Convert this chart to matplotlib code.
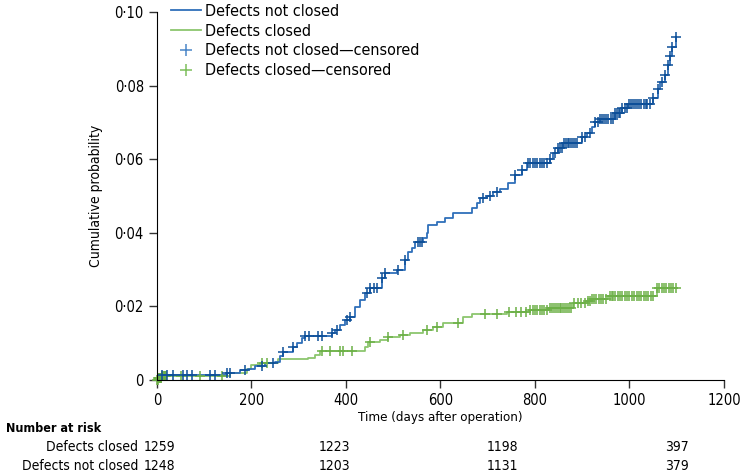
import numpy as np
import matplotlib
matplotlib.use('Agg')
import matplotlib.pyplot as plt
from matplotlib.lines import Line2D

plt.rcParams['font.family'] = ['DejaVu Sans']
plt.rcParams['font.stretch'] = 'condensed'

# step curve for defects not closed (days, cumulative probability)
open_days = [0, 6, 148, 176, 193, 207, 229, 250, 260, 267, 288, 296, 307, 313, 370, 377, 387, 398, 408, 419,
             430, 440, 451, 476, 483, 508, 525, 531, 540, 546, 563, 571, 574, 593, 610, 626, 667, 677, 684, 698,
             711, 726, 743, 758, 772, 783, 832, 838, 849, 859, 899, 910, 921, 927, 938, 969, 984, 997, 1050, 1060,
             1065, 1075, 1081, 1086, 1090, 1098]
open_prob = [0, 0.0014, 0.002, 0.0027, 0.003, 0.0038, 0.0046, 0.005, 0.0065, 0.0076, 0.009, 0.010, 0.0114, 0.012,
             0.0128, 0.0136, 0.015, 0.0163, 0.017, 0.0198, 0.0217, 0.0236, 0.025, 0.0277, 0.029, 0.030, 0.0326,
             0.0347, 0.036, 0.0375, 0.0385, 0.040, 0.042, 0.043, 0.044, 0.0453, 0.0467, 0.048, 0.0494, 0.050,
             0.051, 0.052, 0.0535, 0.0556, 0.057, 0.059, 0.060, 0.0616, 0.063, 0.0643, 0.066, 0.067, 0.0687,
             0.070, 0.071, 0.0725, 0.074, 0.075, 0.0765, 0.079, 0.081, 0.083, 0.0855, 0.088, 0.0906, 0.0933]
open_censor = [11, 21, 34, 55, 63, 74, 112, 123, 148, 155, 186, 222, 245, 267, 288, 313, 322, 340, 349, 370, 381,
               402, 408, 444, 451, 459, 465, 476, 483, 510, 525, 552, 556, 560, 690, 705, 720, 758, 772, 785,
               790, 795, 800, 805, 810, 815, 820, 825, 832, 842, 849, 853, 857, 861, 865, 869, 873, 877, 881, 885,
               889, 899, 906, 916, 927, 933, 938, 942, 946, 950, 955, 960, 965, 969, 973, 977, 981, 985, 990, 995,
               1000, 1004, 1008, 1012, 1016, 1020, 1025, 1030, 1034, 1038, 1043, 1050, 1060, 1069, 1075, 1081,
               1086, 1090, 1098]

# step curve for defects closed
closed_days = [0, 3, 10, 155, 190, 200, 218, 256, 320, 334, 345, 440, 447, 472, 489, 514, 535, 563, 584, 605,
               648, 667, 740, 790, 830, 880, 910, 918, 955, 1058, 1100]
closed_prob = [0, 0.0005, 0.001, 0.002, 0.003, 0.004, 0.0046, 0.0057, 0.006, 0.0068, 0.0079, 0.009, 0.0103,
               0.0109, 0.0117, 0.0122, 0.0128, 0.0136, 0.0144, 0.0155, 0.017, 0.0179, 0.0185, 0.019, 0.0196,
               0.0209, 0.0215, 0.022, 0.0228, 0.025, 0.025]
closed_censor = [1, 2, 3, 4, 5, 6, 7, 8, 9, 10, 12, 14, 16, 18, 20, 51, 91, 137, 222, 233, 349, 366, 387, 393,
                 412, 451, 489, 521, 571, 593, 637, 694, 720, 745, 760, 770, 780, 790, 795, 800, 805, 810, 815,
                 820, 825, 832, 836, 840, 844, 848, 852, 856, 860, 864, 868, 872, 876, 882, 890, 898, 905, 912,
                 916, 920, 925, 930, 935, 940, 945, 950, 958, 962, 966, 970, 975, 980, 985, 990, 995, 1000, 1005,
                 1010, 1015, 1020, 1025, 1030, 1035, 1040, 1045, 1050, 1058, 1063, 1068, 1073, 1078, 1083, 1088,
                 1093, 1098]

y_ticks = [0, 0.02, 0.04, 0.06, 0.08, 0.10]
y_tick_labels = ['0', '0·02', '0·04', '0·06', '0·08', '0·10']
x_ticks = [0, 200, 400, 600, 800, 1000, 1200]

risk_groups = ['Defects closed', 'Defects not closed']
risk_closed = ['1259', '1223', '1198', '397']
risk_open = ['1248', '1203', '1131', '379']

blue_line = '#2f6fba'
blue_mark = '#0d4f98'
green_line = '#8cc66e'
green_mark = '#6cb047'
fs = 10


def step_value(days, prob, t):
    i = np.searchsorted(days, t, side='right') - 1
    return np.asarray(prob)[i]


fig = plt.figure(figsize=(7.5, 4.76), dpi=100)
ax = fig.add_axes([0.2093, 0.2017, 0.756, 0.7731])

ax.step(closed_days, closed_prob, where='post', color=green_line, lw=1.3, clip_on=False)
ax.step(open_days, open_prob, where='post', color=blue_line, lw=1.3, clip_on=False)
ax.plot(closed_censor, step_value(closed_days, closed_prob, closed_censor), ls='none', marker='+',
        ms=7.5, mew=1.1, color=green_mark, clip_on=False)
ax.plot(open_censor, step_value(open_days, open_prob, open_censor), ls='none', marker='+',
        ms=7.5, mew=1.1, color=blue_mark, clip_on=False)

ax.set_xlim(0, 1200)
ax.set_ylim(0, 0.10)
ax.set_xticks(x_ticks)
ax.set_yticks(y_ticks)
ax.set_yticklabels(y_tick_labels)
ax.spines['top'].set_visible(False)
ax.spines['right'].set_visible(False)
ax.tick_params(direction='out', length=6, width=1, labelsize=10.5, color='#333333')
ax.set_xlabel('Time (days after operation)', fontsize=9.5, labelpad=2)
ax.set_ylabel('Cumulative probability', fontsize=10, labelpad=8)

handles = [
    Line2D([], [], color=blue_line, lw=1.3),
    Line2D([], [], color=green_line, lw=1.3),
    Line2D([], [], ls='none', marker='+', ms=9, mew=1.1, color='#4a86c8'),
    Line2D([], [], ls='none', marker='+', ms=9, mew=1.1, color='#7dbf5c'),
]
labels = ['Defects not closed', 'Defects closed', 'Defects not closed—censored', 'Defects closed—censored']
ax.legend(handles, labels, loc='upper left', bbox_to_anchor=(0.025, 1.022), frameon=False,
          fontsize=11.5, handlelength=1.9, handletextpad=0.25, labelspacing=0.3, borderpad=0,
          borderaxespad=0)

# number at risk table
risk_x = [6, 375, 732, 1100]
fig.text(6 / 750, 1 - 428 / 476, 'Number at risk', ha='left', va='center', fontsize=9,
         fontweight='bold')
for row, (name, vals) in enumerate(zip(risk_groups, [risk_closed, risk_open])):
    yfig = 1 - (447 + row * 19) / 476
    fig.text(138 / 750, yfig, name, ha='right', va='center', fontsize=fs)
    for xv, v in zip(risk_x, vals):
        xfig = fig.transFigure.inverted().transform(ax.transData.transform((xv, 0)))[0]
        fig.text(xfig, yfig, v, ha='center', va='center', fontsize=fs)

fig.savefig('out.png', dpi=100)
